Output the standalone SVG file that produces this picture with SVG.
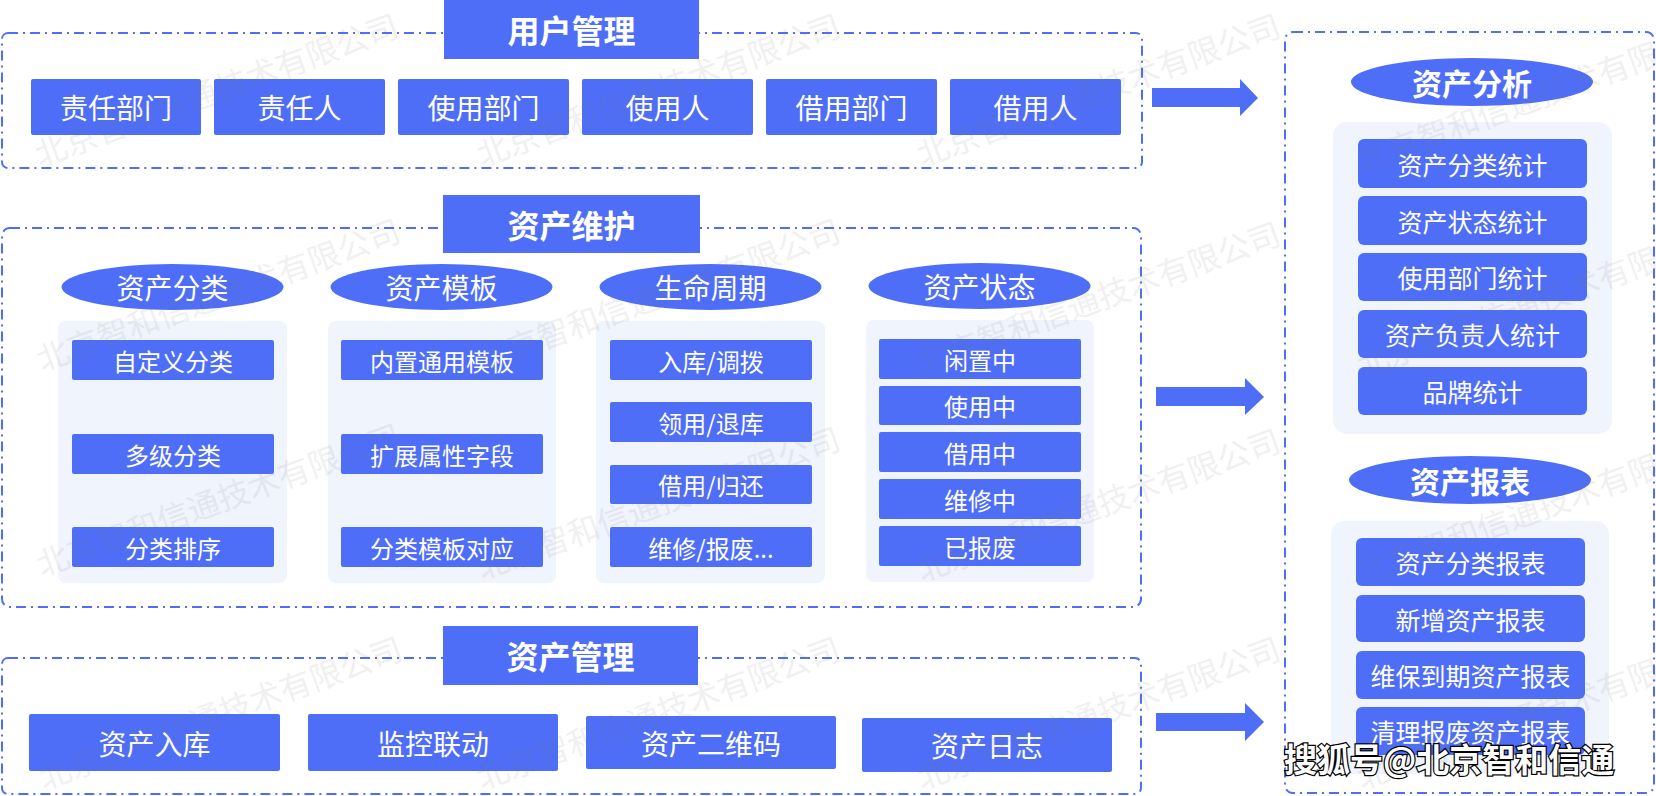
<svg xmlns="http://www.w3.org/2000/svg" width="1656" height="796" viewBox="0 0 1656 796">
<style>
text{font-family:"Noto Sans CJK SC","Noto Sans",sans-serif;}
.frame{fill:none;stroke:#4f6ef7;stroke-width:2;stroke-dasharray:10 5 2 5;}
.title{fill:#4f6ef7;}
.tt{fill:#fff;font-size:32px;font-weight:bold;text-anchor:middle;dominant-baseline:central;}
.box{fill:#4f6ef7;rx:2;}
.rbox{fill:#4f6ef7;rx:6;}
.bt{fill:#fff;font-size:28px;text-anchor:middle;dominant-baseline:central;}
.st{fill:#fff;font-size:24px;text-anchor:middle;dominant-baseline:central;}
.rt{fill:#fff;font-size:25px;text-anchor:middle;dominant-baseline:central;}
.ell{fill:#4f6ef7;}
.et{fill:#fff;font-size:28px;text-anchor:middle;dominant-baseline:central;}
.eb{fill:#fff;font-size:30px;font-weight:bold;text-anchor:middle;dominant-baseline:central;}
.panel{fill:#f0f4fd;}
.arrow{fill:#4f6ef7;}
.wm{fill:#777;opacity:0.1;font-size:32px;}
.sohu{fill:#fff;stroke:#000;stroke-width:2.5;paint-order:stroke;font-size:33px;font-weight:bold;}
</style>

<g id="user-mgmt">
<rect class="frame" x="2" y="33" width="1140" height="135" rx="6"/>
<rect class="title" x="444" y="0" width="255" height="59"/>
<text class="tt" x="571.5" y="29">用户管理</text>
<rect class="box" x="31" y="79" width="170" height="56"/><text class="bt" x="116" y="107">责任部门</text>
<rect class="box" x="214" y="79" width="171" height="56"/><text class="bt" x="299.5" y="107">责任人</text>
<rect class="box" x="398" y="79" width="171" height="56"/><text class="bt" x="483.5" y="107">使用部门</text>
<rect class="box" x="582" y="79" width="171" height="56"/><text class="bt" x="667.5" y="107">使用人</text>
<rect class="box" x="766" y="79" width="171" height="56"/><text class="bt" x="851.5" y="107">借用部门</text>
<rect class="box" x="950" y="79" width="171" height="56"/><text class="bt" x="1035.5" y="107">借用人</text>
</g>

<g id="asset-maint">
<rect class="frame" x="2" y="228" width="1139" height="379" rx="8"/>
<rect class="title" x="443" y="195" width="257" height="58"/>
<text class="tt" x="571.5" y="224">资产维护</text>

<g id="cat">
<ellipse class="ell" cx="172.5" cy="287" rx="111" ry="23"/><text class="et" x="172.5" y="287">资产分类</text>
<rect class="panel" x="58" y="321" width="229" height="262" rx="8"/>
<rect class="box" x="72" y="340" width="202" height="40"/><text class="st" x="173" y="360">自定义分类</text>
<rect class="box" x="72" y="434" width="202" height="40"/><text class="st" x="173" y="454">多级分类</text>
<rect class="box" x="72" y="527" width="202" height="40"/><text class="st" x="173" y="547">分类排序</text>
</g>
<g id="tpl">
<ellipse class="ell" cx="441.5" cy="287" rx="111" ry="23"/><text class="et" x="441.5" y="287">资产模板</text>
<rect class="panel" x="328" y="321" width="228" height="262" rx="8"/>
<rect class="box" x="341" y="340" width="202" height="40"/><text class="st" x="442" y="360">内置通用模板</text>
<rect class="box" x="341" y="434" width="202" height="40"/><text class="st" x="442" y="454">扩展属性字段</text>
<rect class="box" x="341" y="527" width="202" height="40"/><text class="st" x="442" y="547">分类模板对应</text>
</g>
<g id="life">
<ellipse class="ell" cx="710.5" cy="287" rx="111" ry="23"/><text class="et" x="710.5" y="287">生命周期</text>
<rect class="panel" x="596" y="321" width="229" height="262" rx="8"/>
<rect class="box" x="610" y="340" width="202" height="40"/><text class="st" x="711" y="360">入库/调拨</text>
<rect class="box" x="610" y="402" width="202" height="40"/><text class="st" x="711" y="422">领用/退库</text>
<rect class="box" x="610" y="465" width="202" height="39"/><text class="st" x="711" y="484.5">借用/归还</text>
<rect class="box" x="610" y="527" width="202" height="40"/><text class="st" x="711" y="547">维修/报废...</text>
</g>
<g id="state">
<ellipse class="ell" cx="979.5" cy="286" rx="111" ry="23"/><text class="et" x="979.5" y="286">资产状态</text>
<rect class="panel" x="866" y="320" width="228" height="262" rx="8"/>
<rect class="box" x="879" y="339" width="202" height="40"/><text class="st" x="980" y="359">闲置中</text>
<rect class="box" x="879" y="386" width="202" height="39"/><text class="st" x="980" y="405.5">使用中</text>
<rect class="box" x="879" y="432" width="202" height="40"/><text class="st" x="980" y="452">借用中</text>
<rect class="box" x="879" y="479" width="202" height="40"/><text class="st" x="980" y="499">维修中</text>
<rect class="box" x="879" y="526" width="202" height="40"/><text class="st" x="980" y="546">已报废</text>
</g>
</g>

<g id="asset-mgmt">
<rect class="frame" x="2" y="658" width="1139" height="136" rx="6"/>
<rect class="title" x="443" y="626" width="255" height="59"/>
<text class="tt" x="570.5" y="655">资产管理</text>
<rect class="box" x="29" y="714" width="251" height="57"/><text class="bt" x="154.5" y="742.5">资产入库</text>
<rect class="box" x="308" y="714" width="250" height="57"/><text class="bt" x="433" y="742.5">监控联动</text>
<rect class="box" x="586" y="716" width="250" height="53"/><text class="bt" x="711" y="742.5">资产二维码</text>
<rect class="box" x="862" y="718" width="250" height="54"/><text class="bt" x="987" y="745">资产日志</text>
</g>

<g id="connectors">
<polygon class="arrow" points="1152,88 1240,88 1240,79 1258,98 1240,116 1240,107 1152,107"/>
<polygon class="arrow" points="1156,387 1245,387 1245,378 1264,397 1245,415 1245,406 1156,406"/>
<polygon class="arrow" points="1156,713 1245,713 1245,703 1264,722 1245,741 1245,731 1156,731"/>
</g>

<g id="analysis-report">
<rect class="frame" x="1285" y="32" width="369" height="761" rx="8"/>
<g id="analysis">
<ellipse class="ell" cx="1472" cy="82" rx="121" ry="24"/><text class="eb" x="1472" y="82">资产分析</text>
<rect class="panel" x="1333" y="122" width="279" height="312" rx="14"/>
<rect class="rbox" x="1358" y="139" width="229" height="49"/><text class="rt" x="1472.5" y="163.5">资产分类统计</text>
<rect class="rbox" x="1358" y="196" width="229" height="49"/><text class="rt" x="1472.5" y="220.5">资产状态统计</text>
<rect class="rbox" x="1358" y="253" width="229" height="48"/><text class="rt" x="1472.5" y="277">使用部门统计</text>
<rect class="rbox" x="1358" y="310" width="229" height="48"/><text class="rt" x="1472.5" y="334">资产负责人统计</text>
<rect class="rbox" x="1358" y="367" width="229" height="48"/><text class="rt" x="1472.5" y="391">品牌统计</text>
</g>
<g id="report">
<ellipse class="ell" cx="1470" cy="480" rx="121" ry="24"/><text class="eb" x="1470" y="480">资产报表</text>
<rect class="panel" x="1331" y="521" width="278" height="253" rx="14"/>
<rect class="rbox" x="1356" y="538" width="229" height="48"/><text class="rt" x="1470.5" y="562">资产分类报表</text>
<rect class="rbox" x="1356" y="595" width="229" height="47"/><text class="rt" x="1470.5" y="618.5">新增资产报表</text>
<rect class="rbox" x="1356" y="651" width="229" height="48"/><text class="rt" x="1470.5" y="675">维保到期资产报表</text>
<rect class="rbox" x="1356" y="707" width="229" height="48"/><text class="rt" x="1470.5" y="731">清理报废资产报表</text>
</g>
</g>

<g id="watermarks">
<text class="wm" transform="translate(40,167) rotate(-20)">北京智和信通技术有限公司</text>
<text class="wm" transform="translate(482,167) rotate(-20)">北京智和信通技术有限公司</text>
<text class="wm" transform="translate(922,167) rotate(-20)">北京智和信通技术有限公司</text>
<text class="wm" transform="translate(1362,173) rotate(-20)">北京智和信通技术有限公司</text>
<text class="wm" transform="translate(42,372) rotate(-20)">北京智和信通技术有限公司</text>
<text class="wm" transform="translate(482,372) rotate(-20)">北京智和信通技术有限公司</text>
<text class="wm" transform="translate(922,375) rotate(-20)">北京智和信通技术有限公司</text>
<text class="wm" transform="translate(1362,378) rotate(-20)">北京智和信通技术有限公司</text>
<text class="wm" transform="translate(42,577) rotate(-20)">北京智和信通技术有限公司</text>
<text class="wm" transform="translate(482,580) rotate(-20)">北京智和信通技术有限公司</text>
<text class="wm" transform="translate(922,582) rotate(-20)">北京智和信通技术有限公司</text>
<text class="wm" transform="translate(1362,585) rotate(-20)">北京智和信通技术有限公司</text>
<text class="wm" transform="translate(44,790) rotate(-20)">北京智和信通技术有限公司</text>
<text class="wm" transform="translate(482,790) rotate(-20)">北京智和信通技术有限公司</text>
<text class="wm" transform="translate(922,790) rotate(-20)">北京智和信通技术有限公司</text>
<text class="wm" transform="translate(1362,790) rotate(-20)">北京智和信通技术有限公司</text>
</g>
<text class="sohu" x="1284" y="772">搜狐号@北京智和信通</text>
</svg>
